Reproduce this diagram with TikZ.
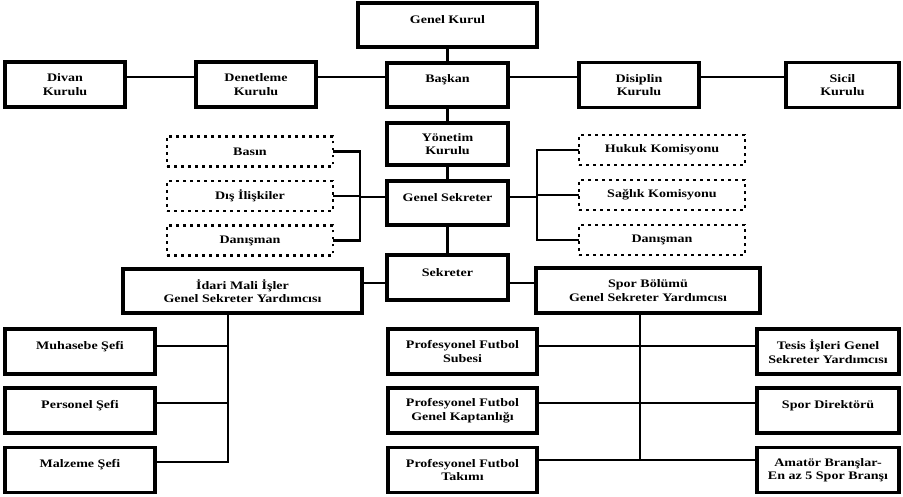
\documentclass[tikz,border=0pt]{standalone}
\usepackage{fontspec}
\setmainfont{Liberation Serif}[FakeStretch=1.22]
\newcommand\rz[1]{\raisebox{5pt}[\height][\depth]{#1}}
\begin{document}
\begin{tikzpicture}[x=1pt,y=-1pt,
  every node/.style={font=\bfseries\fontsize{11.5}{13.5}\selectfont, align=center, inner sep=0pt, outer sep=0pt},
  box/.style={draw, line width=3.2pt, fill=white},
  dbox/.style={draw, line width=2.6pt, dash pattern=on 2.6pt off 4.4pt, minimum width=166pt, minimum height=30pt},
  conn/.style={line width=2.8pt},
  cbox/.style={box, minimum width=121pt, minimum height=44pt},
  tbox/.style={box, minimum width=120pt, minimum height=45pt},
  lbox/.style={box, minimum width=150pt, minimum height=45pt},
  pbox/.style={box, minimum width=149pt, minimum height=45pt},
  rbox/.style={box, minimum width=142pt, minimum height=45pt}]
\useasboundingbox (0,0) rectangle (903,497);
% top
\node[box,minimum width=179pt,minimum height=44pt] (gk) at (447.5,25) {\rz{Genel Kurul}};
\node[cbox] (bas) at (447.5,85) {\rz{Başkan}};
\node[tbox] (divan) at (65,84.5) {Divan\\Kurulu};
\node[tbox] (denet) at (256,84.5) {Denetleme\\Kurulu};
\node[tbox] (disip) at (639,85) {Disiplin\\Kurulu};
\node[tbox,minimum width=113pt] (sicil) at (842.5,85) {Sicil\\Kurulu};
\node[cbox,minimum height=42pt] (yon) at (447.5,144) {Yönetim\\Kurulu};
\node[cbox] (gs) at (447.5,203) {\rz{Genel Sekreter}};
\node[cbox,minimum height=45pt] (sek) at (447.5,277.5) {\rz{Sekreter}};
% dashed
\node[dbox] (basin) at (250,151.5) {Basın};
\node[dbox] (dis) at (250,196) {Dış İlişkiler};
\node[dbox] (dan1) at (250,240.5) {Danışman};
\node[dbox] (huk) at (662,150) {Hukuk Komisyonu};
\node[dbox] (sag) at (662,195) {Sağlık Komisyonu};
\node[dbox] (dan2) at (662,240) {Danışman};
% middle
\node[box,minimum width=239pt,minimum height=44pt] (idari) at (242.5,291) {İdari Mali İşler\\Genel Sekreter Yardımcısı};
\node[box,minimum width=224pt,minimum height=45pt] (spor) at (648,290.5) {Spor Bölümü\\Genel Sekreter Yardımcısı};
% left column
\node[lbox] (muh) at (80,351.5) {\rz{Muhasebe Şefi}};
\node[lbox] (per) at (80,410.5) {\rz{Personel Şefi}};
\node[lbox] (malz) at (80,470) {\rz{Malzeme Şefi}};
% right columns
\node[pbox] (pf1) at (462.5,351.5) {Profesyonel Futbol\\Subesi};
\node[pbox] (pf2) at (462.5,410.5) {Profesyonel Futbol\\Genel Kaptanlığı};
\node[pbox] (pf3) at (462.5,470) {Profesyonel Futbol\\Takımı};
\node[rbox] (tes) at (828,351.5) {Tesis İşleri Genel\\Sekreter Yardımcısı};
\node[rbox] (sd) at (828,410.5) {\rz{Spor Direktörü}};
\node[rbox] (am) at (828,470) {Amatör Branşlar-\\En az 5 Spor Branşı};
% connectors
\coordinate (trow) at (0,77);
\draw[conn] (gk.south) -- (bas.north);
\draw[conn] (divan.east |- trow) -- (denet.west |- trow);
\draw[conn] (denet.east |- trow) -- (bas.west |- trow);
\draw[conn] (bas.east |- trow) -- (disip.west |- trow);
\draw[conn] (disip.east |- trow) -- (sicil.west |- trow);
\draw[conn] (bas.south) -- (yon.north);
\draw[conn] (yon.south) -- (gs.north);
\draw[conn] (gs.south) -- (sek.north);
% left bracket
\coordinate (lb) at (360,0);
\draw[conn] (basin.east) -- (basin.east -| lb) -- (dan1.east -| lb) -- (dan1.east);
\draw[conn] (dis.east) -- (dis.east -| lb);
\coordinate (gsl) at ([yshift=6pt]gs.west);
\draw[conn] (gsl) -- (gsl -| lb);
% right bracket
\coordinate (rb) at (537,0);
\draw[conn] (huk.west) -- (huk.west -| rb) -- (dan2.west -| rb) -- (dan2.west);
\draw[conn] (sag.west) -- (sag.west -| rb);
\coordinate (gsr) at ([yshift=6pt]gs.east);
\draw[conn] (gsr) -- (gsr -| rb);
% sekreter
\coordinate (sl) at ([yshift=-5.5pt]sek.west);
\draw[conn] (sl) -- (sl -| idari.east);
\coordinate (sr) at ([yshift=-5.5pt]sek.east);
\draw[conn] (sr) -- (sr -| spor.west);
% left tree
\coordinate (lv) at (228,0);
\coordinate (m1) at ([yshift=5.5pt]muh.east);
\coordinate (m2) at ([yshift=7.5pt]per.east);
\coordinate (m3) at ([yshift=8pt]malz.east);
\draw[conn] (idari.south -| lv) -- (m3 -| lv) -- (m3);
\draw[conn] (m1) -- (m1 -| lv);
\draw[conn] (m2) -- (m2 -| lv);
% right tree
\coordinate (rv) at (640,0);
\coordinate (p1) at ([yshift=5.5pt]pf1.east);
\coordinate (p2) at ([yshift=7.5pt]pf2.east);
\coordinate (p3) at ([yshift=10pt]pf3.east);
\draw[conn] (spor.south -| rv) -- (p3 -| rv);
\draw[conn] (p1) -- (p1 -| tes.west);
\draw[conn] (p2) -- (p2 -| sd.west);
\draw[conn] (p3) -- (p3 -| am.west);
\end{tikzpicture}
\end{document}
